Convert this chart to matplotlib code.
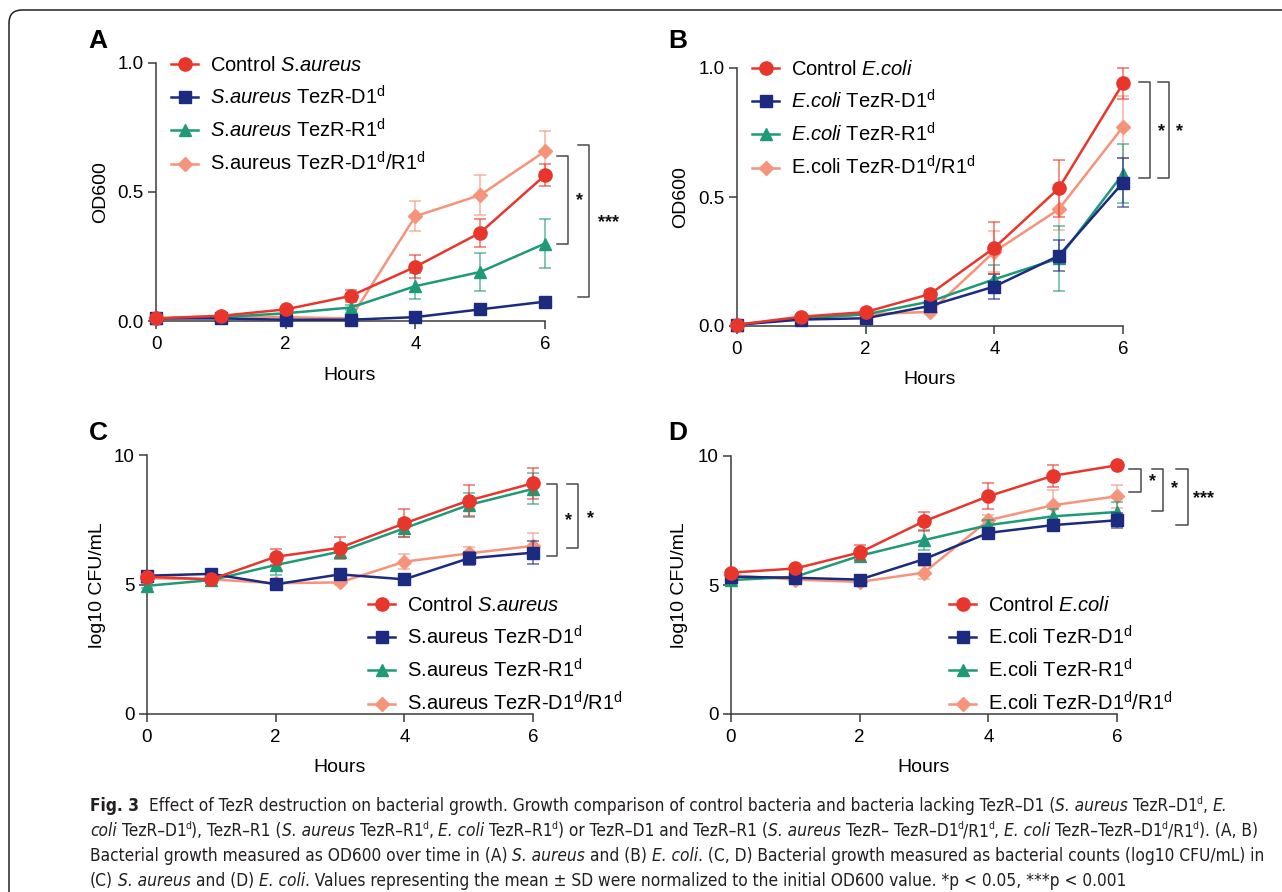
import os
import matplotlib
matplotlib.use("Agg")
import matplotlib.pyplot as plt
from matplotlib import font_manager
from matplotlib.font_manager import FontProperties
from matplotlib.path import Path
from matplotlib.patches import PathPatch

W, H = 1282, 892

# ---- data ----
hours = [0, 1, 2, 3, 4, 5, 6]

# (A) OD600, S. aureus
ctrl_A = [0.01, 0.02, 0.045, 0.097, 0.21, 0.342, 0.565]
ctrl_A_sd = [0.004, 0.005, 0.01, 0.025, 0.045, 0.054, 0.042]
d1_A = [0.01, 0.01, 0.005, 0.005, 0.015, 0.045, 0.075]
d1_A_sd = [0.003, 0.003, 0.003, 0.003, 0.005, 0.008, 0.01]
r1_A = [0.01, 0.015, 0.03, 0.052, 0.135, 0.19, 0.30]
r1_A_sd = [0.003, 0.005, 0.008, 0.01, 0.05, 0.075, 0.095]
dr_A = [0.01, 0.02, 0.015, 0.01, 0.406, 0.488, 0.658]
dr_A_sd = [0.003, 0.005, 0.005, 0.005, 0.058, 0.076, 0.08]

# (B) OD600, E. coli
ctrl_B = [0.005, 0.036, 0.054, 0.124, 0.303, 0.533, 0.94]
ctrl_B_sd = [0.003, 0.005, 0.008, 0.015, 0.1, 0.11, 0.06]
d1_B = [0.005, 0.025, 0.03, 0.078, 0.153, 0.272, 0.556]
d1_B_sd = [0.003, 0.004, 0.005, 0.01, 0.05, 0.06, 0.095]
r1_B = [0.005, 0.03, 0.045, 0.095, 0.181, 0.262, 0.59]
r1_B_sd = [0.003, 0.005, 0.008, 0.01, 0.055, 0.125, 0.115]
dr_B = [0.005, 0.03, 0.045, 0.055, 0.288, 0.452, 0.772]
dr_B_sd = [0.003, 0.005, 0.008, 0.01, 0.08, 0.08, 0.12]

# (C) log10 CFU/mL, S. aureus
ctrl_C = [5.30, 5.20, 6.07, 6.42, 7.36, 8.24, 8.91]
ctrl_C_sd = [0.1, 0.1, 0.3, 0.4, 0.54, 0.6, 0.6]
d1_C = [5.34, 5.41, 5.01, 5.39, 5.20, 6.01, 6.23]
d1_C_sd = [0.1, 0.1, 0.1, 0.1, 0.1, 0.25, 0.45]
r1_C = [4.95, 5.17, 5.75, 6.27, 7.17, 8.07, 8.69]
r1_C_sd = [0.1, 0.1, 0.4, 0.3, 0.35, 0.45, 0.6]
dr_C = [5.24, 5.20, 5.05, 5.08, 5.88, 6.20, 6.49]
dr_C_sd = [0.1, 0.1, 0.1, 0.1, 0.3, 0.25, 0.5]

# (D) log10 CFU/mL, E. coli
ctrl_D = [5.48, 5.64, 6.26, 7.47, 8.44, 9.23, 9.64]
ctrl_D_sd = [0.1, 0.1, 0.3, 0.36, 0.5, 0.44, 0.1]
d1_D = [5.32, 5.28, 5.21, 6.00, 7.02, 7.32, 7.51]
d1_D_sd = [0.1, 0.1, 0.1, 0.15, 0.15, 0.15, 0.3]
r1_D = [5.19, 5.32, 6.13, 6.74, 7.32, 7.66, 7.83]
r1_D_sd = [0.1, 0.1, 0.15, 0.4, 0.2, 0.3, 0.4]
dr_D = [5.38, 5.21, 5.12, 5.48, 7.51, 8.09, 8.44]
dr_D_sd = [0.1, 0.1, 0.1, 0.25, 0.2, 0.6, 0.45]

SA = r"$\mathit{S}$.$\mathit{aureus}$"
EC = r"$\mathit{E}$.$\mathit{coli}$"
SUP = r"$^{\mathrm{d}}$"
labels_A = ["Control " + SA, SA + " TezR-D1" + SUP, SA + " TezR-R1" + SUP,
            "S.aureus TezR-D1" + SUP + "/R1" + SUP]
labels_B = ["Control " + EC, EC + " TezR-D1" + SUP, EC + " TezR-R1" + SUP,
            "E.coli TezR-D1" + SUP + "/R1" + SUP]
labels_C = ["Control " + SA, "S.aureus TezR-D1" + SUP, "S.aureus TezR-R1" + SUP,
            "S.aureus TezR-D1" + SUP + "/R1" + SUP]
labels_D = ["Control " + EC, "E.coli TezR-D1" + SUP, "E.coli TezR-R1" + SUP,
            "E.coli TezR-D1" + SUP + "/R1" + SUP]

# caption lines: (text, style)  n=normal i=italic b=bold s=superscript
caption = [
    [("Fig. 3", "b"), ("  Effect of TezR destruction on bacterial growth. Growth comparison of control bacteria and bacteria lacking TezR\u2013D1 (", "n"),
     ("S. aureus", "i"), (" TezR\u2013D1", "n"), ("d", "s"), (", ", "n"), ("E.", "i")],
    [("coli", "i"), (" TezR\u2013D1", "n"), ("d", "s"), ("), TezR\u2013R1 (", "n"), ("S. aureus", "i"), (" TezR\u2013R1", "n"), ("d", "s"),
     (", ", "n"), ("E. coli", "i"), (" TezR\u2013R1", "n"), ("d", "s"), (") or TezR\u2013D1 and TezR\u2013R1 (", "n"),
     ("S. aureus", "i"), (" TezR\u2013 TezR\u2013D1", "n"), ("d", "s"), ("/R1", "n"), ("d", "s"), (", ", "n"),
     ("E. coli", "i"), (" TezR\u2013TezR\u2013D1", "n"), ("d", "s"), ("/R1", "n"), ("d", "s"), ("). (A, B)", "n")],
    [("Bacterial growth measured as OD600 over time in (A) ", "n"), ("S. aureus", "i"), (" and (B) ", "n"), ("E. coli", "i"),
     (". (C, D) Bacterial growth measured as bacterial counts (log10 CFU/mL) in", "n")],
    [("(C) ", "n"), ("S. aureus", "i"), (" and (D) ", "n"), ("E. coli", "i"),
     (". Values representing the mean \u00b1 SD were normalized to the initial OD600 value. *p < 0.05, ***p < 0.001", "n")],
]

RED, NAVY, GREEN, SALMON = "#e8362d", "#1c2b7f", "#1f9a76", "#f5937b"

plt.rcParams["font.family"] = ["Liberation Sans", "DejaVu Sans"]
plt.rcParams["mathtext.fontset"] = "custom"
plt.rcParams["mathtext.rm"] = "Liberation Sans"
plt.rcParams["mathtext.it"] = "Liberation Sans:italic"
plt.rcParams["mathtext.bf"] = "Liberation Sans:bold"


def pick_caption_fonts():
    """Find a semi-condensed (or condensed) sans face for the caption, by file name."""
    groups = {}
    for f in font_manager.fontManager.ttflist:
        b = os.path.basename(f.fname).lower().replace("-", "").replace("_", "")
        if "extra" in b or "ultra" in b:
            continue
        if "semicondensed" in b:
            tag = "semi"
        elif "condensed" in b:
            tag = "cond"
        else:
            continue
        groups.setdefault((tag, f.name), []).append(f)

    def weight(f):
        w = f.weight
        return w if isinstance(w, (int, float)) else {"normal": 400, "regular": 400, "bold": 700}.get(w, 400)

    def is_italic(f):
        return f.style in ("italic", "oblique") or "italic" in os.path.basename(f.fname).lower()

    def find(g, italic, target):
        c = [f for f in g if is_italic(f) == italic]
        c.sort(key=lambda f: abs(weight(f) - target))
        if c and abs(weight(c[0]) - target) <= 150:
            return c[0].fname
        return None

    fallback = None
    for tag in ["semi", "cond"]:
        for fam in ["Noto Sans", "Open Sans", "Roboto", "DejaVu Sans", "Lato", "Inter"]:
            g = groups.get((tag, fam))
            if not g:
                continue
            reg = find(g, False, 400)
            if reg is None:
                continue
            ita = find(g, True, 400)
            bol = find(g, False, 700) or reg
            res = {"n": reg, "i": ita or reg, "b": bol, "s": reg}
            if ita:
                return res
            fallback = fallback or res
    return fallback


cap_files = pick_caption_fonts()

fig = plt.figure(figsize=(W / 100, H / 100), dpi=100)


def fx(x):
    return x / W


def fy(y):
    return 1 - y / H


def add_axes_px(left, right, top, bottom):
    return fig.add_axes([fx(left), fy(bottom), (right - left) / W, (bottom - top) / H])


def style_axes(ax, ymax, yticks, yfmt):
    ax.set_xlim(0, 6)
    ax.set_ylim(0, ymax)
    ax.patch.set_alpha(0)
    for s in ["top", "right"]:
        ax.spines[s].set_visible(False)
    for s in ["left", "bottom"]:
        ax.spines[s].set_color("#3a3a3a")
        ax.spines[s].set_linewidth(1.1)
    ax.spines["left"].set_bounds(0, ymax)
    ax.spines["bottom"].set_bounds(0, 6)
    ax.set_xticks([0, 2, 4, 6])
    ax.set_yticks(yticks)
    ax.set_yticklabels([yfmt.format(v) for v in yticks])
    ax.tick_params(direction="out", length=6, width=1.1, color="#3a3a3a", labelsize=13.5)
    ax.tick_params(axis="x", pad=5)
    ax.tick_params(axis="y", pad=3)


def plot_panel(ax, series):
    # series: list of (y, sd, color, marker, ms) in legend order
    handles = [None] * 4
    order = [3, 2, 1, 0]  # salmon under, red on top
    for k, i in enumerate(order):
        y, sd, color, marker, ms = series[i]
        z = 2 + k
        eb = ax.errorbar(hours, y, yerr=sd, fmt="none", ecolor=color, elinewidth=1.1,
                         capsize=4, capthick=1.1, alpha=0.7, zorder=z)
        for art in eb.get_children():
            art.set_clip_on(False)
        (ln,) = ax.plot(hours, y, color=color, lw=1.8, marker=marker, ms=ms,
                        clip_on=False, zorder=z + 0.5)
        handles[i] = ln
    return handles


def bracket(ax, x, y0, y1, arm):
    ax.plot([x - arm, x, x, x - arm], [y1, y1, y0, y0], color="#4a4a4a", lw=1.1, clip_on=False)


def star(ax, x, y, s):
    ax.text(x, y, s, ha="center", va="center", fontsize=13, fontweight="bold", color="#111111")


def legend_px(ax, handles, labels, x, y):
    ax.legend(handles, labels, loc="upper left", bbox_to_anchor=(fx(x), fy(y)),
              bbox_transform=fig.transFigure, frameon=False, borderpad=0, borderaxespad=0,
              handlelength=1.35, handletextpad=0.6, labelspacing=0.5, fontsize=14.5)


def mk(y, sd, color):
    spec = {RED: ("o", 9.5), NAVY: ("s", 8.5), GREEN: ("^", 9), SALMON: ("D", 7)}[color]
    return (y, sd, color, spec[0], spec[1])


# ---- panel A ----
axA = add_axes_px(156, 545, 63, 321)
style_axes(axA, 1.0, [0, 0.5, 1.0], "{:.1f}")
hA = plot_panel(axA, [mk(ctrl_A, ctrl_A_sd, RED), mk(d1_A, d1_A_sd, NAVY),
                      mk(r1_A, r1_A_sd, GREEN), mk(dr_A, dr_A_sd, SALMON)])
legend_px(axA, hA, labels_A, 171, 56)
bracket(axA, 6.35, 0.297, 0.641, 0.16)
star(axA, 6.53, 0.465, "*")
bracket(axA, 6.68, 0.094, 0.681, 0.17)
star(axA, 6.98, 0.383, "***")

# ---- panel B ----
axB = add_axes_px(737, 1123, 68, 326)
style_axes(axB, 1.0, [0, 0.5, 1.0], "{:.1f}")
hB = plot_panel(axB, [mk(ctrl_B, ctrl_B_sd, RED), mk(d1_B, d1_B_sd, NAVY),
                      mk(r1_B, r1_B_sd, GREEN), mk(dr_B, dr_B_sd, SALMON)])
legend_px(axB, hB, labels_B, 752, 60)
bracket(axB, 6.42, 0.574, 0.946, 0.17)
star(axB, 6.60, 0.755, "*")
bracket(axB, 6.72, 0.574, 0.946, 0.17)
star(axB, 6.88, 0.755, "*")

# ---- panel C ----
axC = add_axes_px(147, 533, 455, 714)
style_axes(axC, 10, [0, 5, 10], "{:d}")
hC = plot_panel(axC, [mk(ctrl_C, ctrl_C_sd, RED), mk(d1_C, d1_C_sd, NAVY),
                      mk(r1_C, r1_C_sd, GREEN), mk(dr_C, dr_C_sd, SALMON)])
legend_px(axC, hC, labels_C, 368, 596)
bracket(axC, 6.37, 6.10, 8.88, 0.16)
star(axC, 6.55, 7.45, "*")
bracket(axC, 6.70, 6.40, 8.88, 0.17)
star(axC, 6.89, 7.55, "*")

# ---- panel D ----
axD = add_axes_px(731, 1117, 456, 714)
style_axes(axD, 10, [0, 5, 10], "{:d}")
hD = plot_panel(axD, [mk(ctrl_D, ctrl_D_sd, RED), mk(d1_D, d1_D_sd, NAVY),
                      mk(r1_D, r1_D_sd, GREEN), mk(dr_D, dr_D_sd, SALMON)])
legend_px(axD, hD, labels_D, 949, 596)
bracket(axD, 6.37, 8.61, 9.48, 0.18)
star(axD, 6.55, 9.0, "*")
bracket(axD, 6.72, 7.87, 9.48, 0.18)
star(axD, 6.90, 8.75, "*")
bracket(axD, 7.10, 7.32, 9.48, 0.18)
star(axD, 7.35, 8.35, "***")

# ---- axis titles and panel letters ----
for x, y, s in [(350, 375, "Hours"), (930, 380, "Hours"), (340, 767, "Hours"), (924, 767, "Hours")]:
    fig.text(fx(x), fy(y), s, ha="center", va="center", fontsize=14)
for x, y, s in [(101, 192, "OD600"), (681, 197, "OD600"), (98, 585, "log10 CFU/mL"), (680, 585, "log10 CFU/mL")]:
    fig.text(fx(x), fy(y), s, ha="center", va="center", rotation=90, fontsize=14)
for x, y, s in [(98, 41, "A"), (678, 41, "B"), (98, 433, "C"), (678, 433, "D")]:
    fig.text(fx(x), fy(y), s, ha="center", va="center", fontsize=19, fontweight="bold")

# ---- border (top and left edge, rounded corner) ----
r = 13
pts = [(9, H + 5), (9, 10 + r), (9, 10), (9 + r, 10), (W + 5, 10)]
codes = [Path.MOVETO, Path.LINETO, Path.CURVE3, Path.CURVE3, Path.LINETO]
fig.add_artist(PathPatch(Path([(fx(a), fy(b)) for a, b in pts], codes), fill=False,
                         edgecolor="#222222", lw=1.1, transform=fig.transFigure))

# ---- caption ----
renderer = fig.canvas.get_renderer()


def seg_kw(style, size):
    fsize = size * 0.62 if style == "s" else size
    if cap_files:
        fp = FontProperties(fname=cap_files[style], size=fsize)
    else:
        fp = FontProperties(family="Open Sans", size=fsize,
                            style="italic" if style == "i" else "normal",
                            weight="bold" if style == "b" else "normal")
    return dict(fontproperties=fp, color="#231f20")


def text_w(s, kw):
    t = fig.text(0, 0, s, **kw)
    w = t.get_window_extent(renderer).width
    t.remove()
    return w


def draw_line(segs, x0, ybase, size, draw=True):
    x = x0
    for s, st in segs:
        kw = seg_kw(st, size)
        core = s.strip(" ")
        lead = len(s) - len(s.lstrip(" "))
        trail = len(s) - len(s.rstrip(" "))
        sp = text_w("x x", kw) - text_w("xx", kw)
        x += lead * sp
        if core:
            dy = 0
            if st == "s":
                dy = size * 0.42 * 100 / 72
                x -= 1.0
            t = fig.text(fx(x), fy(ybase - dy), core, ha="left", va="baseline", **kw)
            w = t.get_window_extent(renderer).width
            if not draw:
                t.remove()
            x += w
        x += trail * sp
    return x


end = draw_line(caption[2], 90, 0, 10, draw=False)
cap_size = 10 * (1268 - 90) / (end - 90)
for i, segs in enumerate(caption):
    draw_line(segs, 90, 811 + 25 * i, cap_size)

fig.savefig("out.png", dpi=100)
